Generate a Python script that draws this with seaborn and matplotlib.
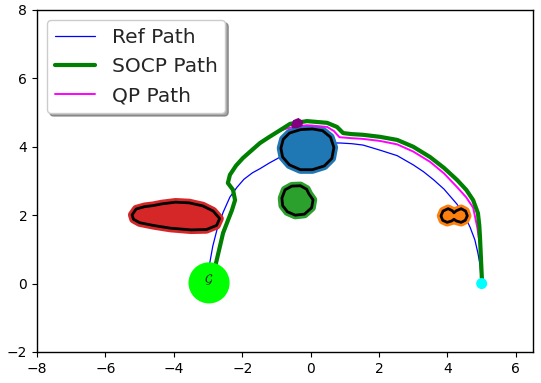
import matplotlib
matplotlib.use("Agg")
import matplotlib.pyplot as plt
import pandas as pd
import seaborn as sns

# paths
ref_x = [-2.97, -2.95, -2.86, -2.74, -2.56, -2.36, -2.15, -1.95, -1.70, -1.48, -1.20, -0.89,
         -0.60, -0.30, 0.00, 0.30, 0.57, 0.86, 1.20, 1.53, 2.03, 2.53, 3.00, 3.30, 3.60,
         3.90, 4.28, 4.50, 4.66, 4.80, 4.89, 4.95, 4.98, 5.00]
ref_y = [0.00, 0.60, 1.10, 1.57, 2.08, 2.53, 2.82, 3.05, 3.24, 3.36, 3.53, 3.70,
         3.84, 3.96, 4.04, 4.09, 4.11, 4.11, 4.09, 4.05, 3.90, 3.74, 3.47, 3.27, 3.03,
         2.76, 2.32, 1.98, 1.65, 1.28, 0.89, 0.55, 0.19, 0.00]

socp_x = [-2.92, -2.80, -2.56, -2.30, -2.21, -2.27, -2.42, -2.36, -2.18, -1.98, -1.72, -1.48,
          -1.22, -0.98, -0.60, -0.11, 0.48, 0.77, 0.95, 1.20, 1.53, 2.03, 2.53, 3.00,
          3.49, 3.90, 4.28, 4.55, 4.75, 4.89, 4.93, 4.95, 4.98, 5.01]
socp_y = [0.10, 0.46, 1.48, 2.15, 2.44, 2.74, 2.94, 3.18, 3.45, 3.67, 3.90, 4.11,
          4.28, 4.43, 4.67, 4.75, 4.70, 4.58, 4.40, 4.37, 4.35, 4.29, 4.20, 4.00,
          3.70, 3.38, 3.03, 2.74, 2.44, 2.06, 1.70, 1.36, 0.70, 0.05]

qp_x = [-2.92, -2.80, -2.56, -2.30, -2.21, -2.27, -2.42, -2.36, -2.18, -1.98, -1.72, -1.48,
        -1.22, -0.98, -0.75, -0.50, -0.11, 0.48, 0.68, 0.84, 1.20, 1.53, 2.03, 2.53, 3.00,
        3.49, 3.90, 4.28, 4.55, 4.75, 4.87, 4.95, 4.98, 5.01]
qp_y = [0.10, 0.46, 1.48, 2.15, 2.44, 2.74, 2.94, 3.18, 3.45, 3.67, 3.90, 4.11,
        4.28, 4.43, 4.52, 4.58, 4.63, 4.58, 4.46, 4.28, 4.25, 4.23, 4.17, 4.07, 3.86,
        3.56, 3.22, 2.82, 2.52, 2.22, 1.65, 1.10, 0.69, 0.05]

# obstacle outlines
red_x = [-5.22, -5.10, -4.85, -4.60, -4.35, -3.95, -3.55, -3.15, -2.85, -2.66, -2.75, -3.05,
         -3.50, -4.10, -4.60, -5.00, -5.18]
red_y = [2.01, 2.18, 2.25, 2.28, 2.33, 2.38, 2.36, 2.27, 2.12, 1.90, 1.70, 1.58,
         1.57, 1.62, 1.70, 1.78, 1.88]
blue_x = [-0.87, -0.80, -0.62, -0.30, 0.05, 0.35, 0.58, 0.68, 0.62, 0.40, 0.05, -0.30, -0.62, -0.82]
blue_y = [3.96, 4.22, 4.40, 4.50, 4.52, 4.47, 4.28, 3.98, 3.66, 3.44, 3.33, 3.33, 3.47, 3.70]
green_x = [-0.84, -0.75, -0.55, -0.30, -0.12, -0.05, 0.07, 0.03, -0.18, -0.45, -0.68, -0.82]
green_y = [2.50, 2.74, 2.85, 2.86, 2.76, 2.62, 2.45, 2.22, 2.03, 2.00, 2.10, 2.28]
orange_x = [3.81, 3.87, 4.02, 4.14, 4.19, 4.26, 4.40, 4.53, 4.58, 4.52, 4.40, 4.26,
            4.19, 4.12, 3.99, 3.86]
orange_y = [1.98, 2.12, 2.19, 2.13, 2.07, 2.13, 2.19, 2.12, 1.98, 1.85, 1.79, 1.83,
            1.88, 1.83, 1.79, 1.85]
purple_x = [-0.55, -0.50, -0.36, -0.24, -0.26, -0.40, -0.52]
purple_y = [4.62, 4.76, 4.82, 4.74, 4.62, 4.56, 4.56]

goal = (-2.97, 0.02)
goal_r = 0.58
start = (5.0, 0.0)
start_r = 0.14

sns.set_style("ticks")

fig = plt.figure(figsize=(5.41, 3.83), dpi=100)
ax = fig.add_axes([0.0684, 0.081, 0.9168, 0.893])

ref_df = pd.DataFrame({"x": ref_x, "y": ref_y})
socp_df = pd.DataFrame({"x": socp_x, "y": socp_y})
qp_df = pd.DataFrame({"x": qp_x, "y": qp_y})

sns.lineplot(data=ref_df, x="x", y="y", sort=False, estimator=None, ax=ax,
             color="blue", linewidth=0.9, label="Ref Path", zorder=1)

obstacles = [
    (red_x, red_y, "#d62728"),
    (blue_x, blue_y, "#1f77b4"),
    (green_x, green_y, "#2ca02c"),
    (orange_x, orange_y, "#ff7f0e"),
]
for ox, oy, col in obstacles:
    ax.fill(ox, oy, facecolor=col, edgecolor=col, linewidth=6, joinstyle="round", zorder=2)
    ax.fill(ox, oy, facecolor="none", edgecolor="black", linewidth=2, joinstyle="round", zorder=2.5)

sns.lineplot(data=qp_df, x="x", y="y", sort=False, estimator=None, ax=ax,
             color="magenta", linewidth=1.4, label="QP Path", zorder=3)
sns.lineplot(data=socp_df, x="x", y="y", sort=False, estimator=None, ax=ax,
             color="green", linewidth=3, label="SOCP Path", zorder=4)
ax.fill(purple_x, purple_y, facecolor="purple", edgecolor="purple", linewidth=1, zorder=4.5)

ax.add_patch(plt.Circle(goal, goal_r, color="#00ff00", zorder=5))
ax.text(goal[0], goal[1] + 0.08, r"$\mathcal{G}$", ha="center", va="center",
        fontsize=9, zorder=6)
ax.add_patch(plt.Circle(start, start_r, color="cyan", zorder=5))

ax.set_xlim(-8, 6.5)
ax.set_ylim(-2, 8)
ax.set_xticks([-8, -6, -4, -2, 0, 2, 4, 6])
ax.set_yticks([-2, 0, 2, 4, 6, 8])
ax.set_xlabel("")
ax.set_ylabel("")
ax.tick_params(labelsize=10, length=3.5, width=0.8, colors="black")
for s in ax.spines.values():
    s.set_color("black")
    s.set_linewidth(1.0)

# legend order as in the reference
handles, labels = ax.get_legend_handles_labels()
order = [labels.index(n) for n in ["Ref Path", "SOCP Path", "QP Path"]]
ax.legend([handles[i] for i in order], [labels[i] for i in order],
          loc="upper left", fontsize=14.5, fancybox=True, shadow=True, framealpha=1,
          edgecolor="#cccccc", borderaxespad=0.5)

fig.savefig("out.png", dpi=100)
